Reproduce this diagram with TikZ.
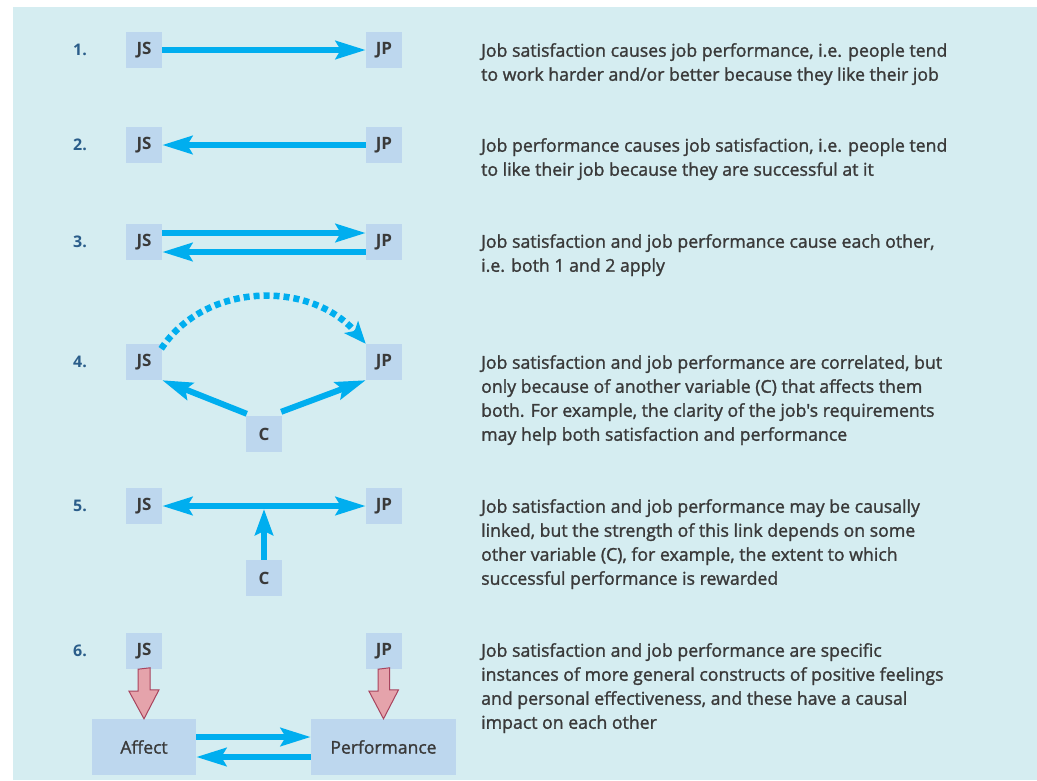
\documentclass[tikz,border=0pt]{standalone}
\usepackage{fontspec}
\setmainfont{Open Sans}
\newfontfamily\descfont{Open Sans}[FakeBold=1.4]
\usetikzlibrary{arrows.meta}
\definecolor{bgblue}{HTML}{D5EDF1}
\definecolor{boxblue}{HTML}{BDD7EE}
\definecolor{arrblue}{HTML}{00AEEF}
\definecolor{numblue}{HTML}{2A5D8A}
\definecolor{txtgray}{HTML}{3A3A3A}
\definecolor{pinkfill}{HTML}{E5A3AB}
\definecolor{pinkline}{HTML}{A8445E}
\begin{document}
\begin{tikzpicture}[x=1pt,y=-1pt,
  vbox/.style={fill=boxblue,minimum width=36pt,minimum height=36pt,inner sep=0pt,
    text=txtgray,font=\fontsize{17}{19}\selectfont\bfseries},
  bigbox/.style={fill=boxblue,minimum height=56pt,inner sep=0pt,
    text=txtgray,font=\descfont\fontsize{17.5}{20}\selectfont},
  numlbl/.style={text=numblue,font=\fontsize{16}{18}\selectfont\bfseries,inner sep=0pt},
  desc/.style={anchor=north west,inner sep=0pt,align=left,text=txtgray,
    font=\descfont\fontsize{17.7}{24}\selectfont},
  conn/.style={draw=arrblue,line width=6pt,-{Stealth[length=30pt,width=18pt,inset=5pt]}},
  dconn/.style={draw=arrblue,line width=6pt,{Stealth[length=30pt,width=18pt,inset=5pt]}-{Stealth[length=30pt,width=18pt,inset=5pt]}},
  pinkarr/.style={fill=pinkfill,draw=pinkline,line width=1pt}
]
\useasboundingbox (0,0) rectangle (1037,780);
\fill[white] (0,0) rectangle (1037,780);
\fill[bgblue] (13,7) rectangle (1037,780);

% numbers
\node[numlbl] (n1) at (80,50) {1.};
\node[numlbl] (n2) at (80,145) {2.};
\node[numlbl] (n3) at (80,242) {3.};
\node[numlbl] (n4) at (80,362) {4.};
\node[numlbl] (n5) at (80,506) {5.};
\node[numlbl] (n6) at (80,651) {6.};

% row 1
\node[vbox] (js1) at (144,50) {JS};
\node[vbox] (jp1) at (384,50) {JP};
\draw[conn] (js1.east) -- (jp1.west);

% row 2
\node[vbox] (js2) at (144,145) {JS};
\node[vbox] (jp2) at (384,145) {JP};
\draw[conn] (jp2.west) -- (js2.east);

% row 3
\node[vbox] (js3) at (144,242) {JS};
\node[vbox] (jp3) at (384,242) {JP};
\draw[conn] ([yshift=9pt]js3.east) -- ([yshift=9pt]jp3.west);
\draw[conn] ([yshift=-10pt]jp3.west) -- ([yshift=-10pt]js3.east);

% row 4
\node[vbox] (js4) at (144,362) {JS};
\node[vbox] (jp4) at (384,362) {JP};
\node[vbox] (c4) at (264,434) {C};
\draw[arrblue,line width=6.5pt,dash pattern=on 6pt off 4pt,-{Stealth[length=22pt,width=18pt,inset=5pt]}]
  ([xshift=-1pt,yshift=-5pt]js4.north east) .. controls (205,282) and (310,280) .. (jp4.north west);
\draw[conn] ([xshift=1pt,yshift=2pt]c4.north west) -- (js4.south east);
\draw[conn] ([xshift=-1pt,yshift=4pt]c4.north east) -- (jp4.south west);

% row 5
\node[vbox] (js5) at (144,506) {JS};
\node[vbox] (jp5) at (384,506) {JP};
\node[vbox] (c5) at (264,578) {C};
\draw[dconn] (js5.east) -- (jp5.west);
\coordinate (m5) at (264,509);
\draw[draw=arrblue,line width=6pt,-{Stealth[length=26pt,width=18pt,inset=4pt]}] (c5.north) -- (m5);

% row 6
\node[vbox] (js6) at (144,651) {JS};
\node[vbox] (jp6) at (384,651) {JP};
\node[bigbox,minimum width=104pt] (aff) at (144,747) {Affect};
\node[bigbox,minimum width=145pt] (perf) at (383.5,747) {Performance};
\path[pinkarr] (js6.south) ++(-6,0) -- ++(0,22) -- ++(-9,0) -- (aff.north) -- ++(15,-29) -- ++(-9,0) -- ++(0,-22) -- cycle;
\path[pinkarr] (jp6.south) ++(-6,0) -- ++(0,22) -- ++(-9,0) -- (perf.north) -- ++(15,-29) -- ++(-9,0) -- ++(0,-22) -- cycle;
\draw[conn] ([yshift=10pt]aff.east) -- ([yshift=10pt]perf.west);
\draw[conn] ([yshift=-10pt]perf.west) -- ([yshift=-10pt]aff.east);

% descriptions
\node[desc] (d1) at (481,43) {Job satisfaction causes job performance, i.e. people tend\\to work harder and/or better because they like their job};
\node[desc] (d2) at (481,138) {Job performance causes job satisfaction, i.e. people tend\\to like their job because they are successful at it};
\node[desc] (d3) at (481,234) {Job satisfaction and job performance cause each other,\\i.e. both 1 and 2 apply};
\node[desc] (d4) at (481,355) {Job satisfaction and job performance are correlated, but\\only because of another variable (C) that affects them\\both. For example, the clarity of the job's requirements\\may help both satisfaction and performance};
\node[desc] (d5) at (481,499) {Job satisfaction and job performance may be causally\\linked, but the strength of this link depends on some\\other variable (C), for example, the extent to which\\successful performance is rewarded};
\node[desc] (d6) at (481,643) {Job satisfaction and job performance are specific\\instances of more general constructs of positive feelings\\and personal effectiveness, and these have a causal\\impact on each other};
\end{tikzpicture}
\end{document}
